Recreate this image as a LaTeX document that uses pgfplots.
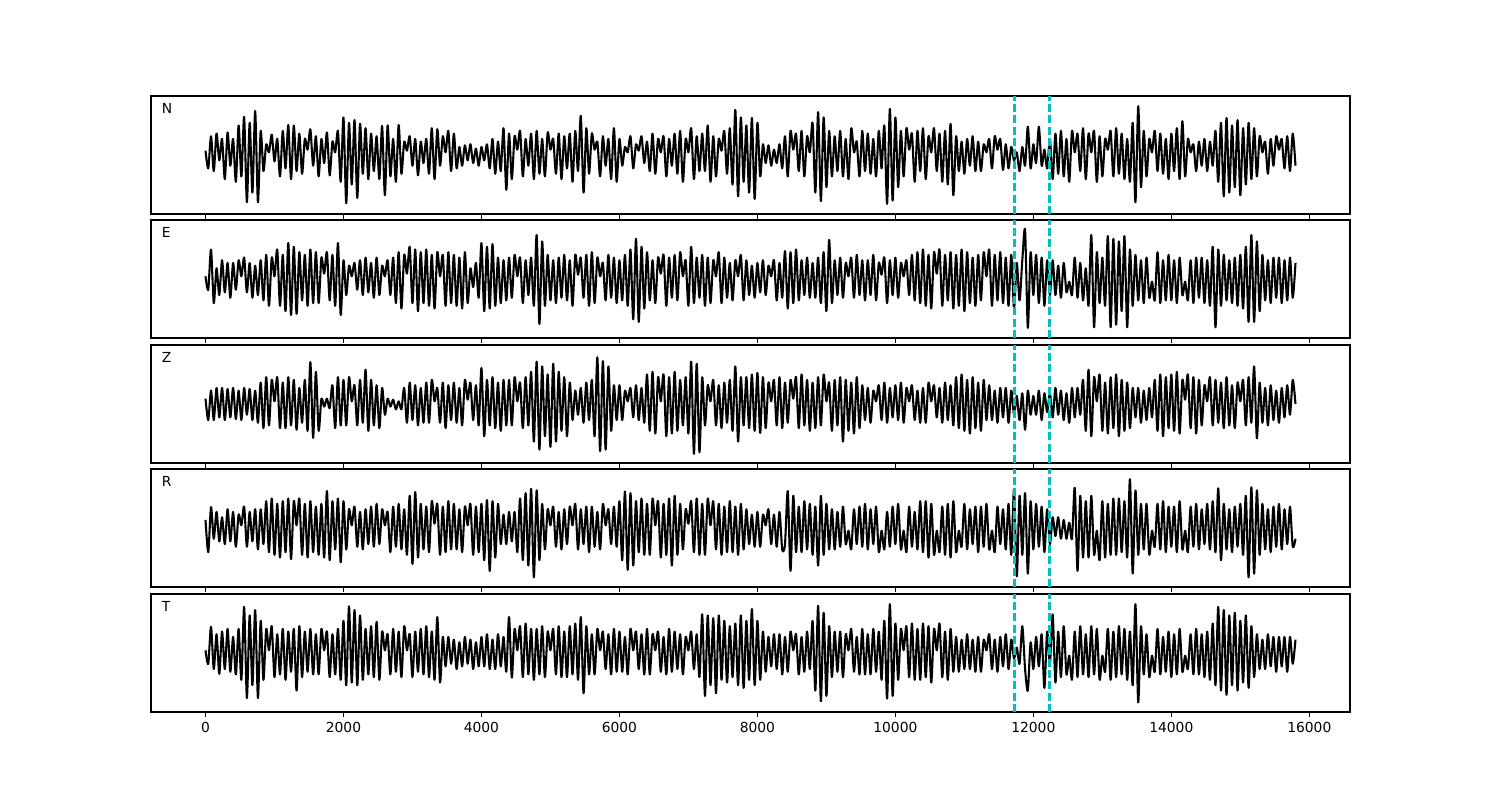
\documentclass[border=0pt]{standalone}
\usepackage{fontspec}
\setmainfont{DejaVu Sans}
\usepackage{pgfplots}
\usepackage{pgfplotstable}
\pgfplotsset{compat=1.18}
\definecolor{mplc}{rgb}{0,0.75,0.75}

\pgfplotstableread[row sep=\\,header=false]{
.08\\ -.25\\ .35\\ -.3\\ .4\\ -.1\\ .3\\ -.45\\ .42\\ -.2\\
.3\\ -.5\\ .55\\ -.4\\ .71\\ -.88\\ .6\\ -.7\\ .82\\ -.88\\
.45\\ -.3\\ .2\\ .05\\ .38\\ -.12\\ .3\\ -.4\\ .45\\ -.25\\
.56\\ -.45\\ .55\\ -.3\\ .4\\ -.35\\ .3\\ .1\\ .48\\ -.2\\
.35\\ -.4\\ .3\\ -.15\\ .42\\ -.38\\ .25\\ .05\\ .45\\ -.5\\
.7\\ -.9\\ .6\\ -.55\\ .65\\ -.8\\ .58\\ -.35\\ .5\\ -.45\\
.4\\ -.3\\ .35\\ -.45\\ .54\\ -.75\\ .55\\ -.4\\ .3\\ -.5\\
.56\\ -.35\\ .25\\ .08\\ .35\\ -.2\\ .3\\ -.38\\ .25\\ -.15\\
.3\\ -.35\\ .5\\ -.45\\ .48\\ -.2\\ .35\\ .05\\ .45\\ -.3\\
.4\\ -.25\\ .15\\ -.2\\ .18\\ -.1\\ .2\\ -.15\\ .12\\ -.2\\
.15\\ -.1\\ .2\\ -.25\\ .3\\ -.35\\ .25\\ -.3\\ .5\\ -.65\\
.4\\ -.45\\ .35\\ .1\\ .45\\ -.4\\ .3\\ -.2\\ .4\\ -.45\\
.45\\ -.35\\ .3\\ -.4\\ .42\\ .1\\ .3\\ -.35\\ .4\\ -.45\\
.35\\ -.25\\ .4\\ -.5\\ .45\\ -.3\\ .73\\ -.7\\ .5\\ -.35\\
.4\\ .1\\ .25\\ -.4\\ .35\\ -.2\\ .3\\ -.45\\ .5\\ -.5\\
.3\\ -.2\\ .15\\ .05\\ .35\\ -.25\\ .2\\ .08\\ .35\\ -.15\\
.25\\ -.3\\ .4\\ -.35\\ .3\\ .05\\ .35\\ -.4\\ .3\\ -.2\\
.4\\ -.35\\ .45\\ -.5\\ .3\\ .05\\ .5\\ -.45\\ .35\\ -.3\\
.4\\ -.3\\ .55\\ -.5\\ .35\\ -.4\\ .3\\ .08\\ .45\\ -.35\\
.5\\ -.55\\ .84\\ -.77\\ .7\\ -.5\\ .55\\ -.7\\ .69\\ -.82\\
.6\\ -.4\\ .2\\ -.15\\ .18\\ -.2\\ .1\\ -.15\\ .2\\ -.25\\
.35\\ -.4\\ .45\\ .1\\ .4\\ -.3\\ .45\\ -.4\\ .35\\ .05\\
.6\\ -.7\\ .8\\ -.86\\ .7\\ -.6\\ .45\\ -.4\\ .35\\ -.3\\
.45\\ -.4\\ .3\\ -.45\\ .5\\ .05\\ .25\\ -.4\\ .45\\ -.3\\
.4\\ -.35\\ .3\\ -.4\\ .45\\ -.25\\ .55\\ -.91\\ .86\\ -.85\\
.7\\ -.6\\ .45\\ -.4\\ .5\\ .1\\ .4\\ -.5\\ .45\\ -.3\\
.5\\ -.45\\ .35\\ .05\\ .5\\ -.3\\ .4\\ -.5\\ .45\\ -.55\\
.58\\ -.75\\ .35\\ -.3\\ .25\\ -.35\\ .3\\ -.2\\ .35\\ -.3\\
.25\\ -.3\\ .2\\ .05\\ .3\\ -.25\\ .35\\ .1\\ .3\\ -.28\\
.2\\ -.25\\ .15\\ -.1\\ .05\\ -.3\\ .15\\ -.2\\ .53\\ -.25\\
.2\\ -.15\\ .53\\ -.2\\ .1\\ -.25\\ .3\\ -.45\\ .4\\ -.35\\
.45\\ -.4\\ .3\\ -.5\\ .45\\ .05\\ .4\\ -.3\\ .5\\ -.45\\
.4\\ .05\\ .45\\ -.5\\ .35\\ -.4\\ .3\\ .1\\ .45\\ -.4\\
.5\\ -.35\\ .4\\ -.45\\ .3\\ -.5\\ .6\\ -.88\\ .91\\ -.6\\
.45\\ -.4\\ .3\\ .05\\ .45\\ -.3\\ .4\\ -.35\\ .3\\ -.45\\
.4\\ -.3\\ .5\\ -.45\\ .63\\ -.4\\ .3\\ .05\\ .2\\ -.3\\
.25\\ -.2\\ .3\\ -.3\\ .25\\ -.2\\ .45\\ -.5\\ .6\\ -.77\\
.69\\ -.7\\ .55\\ -.6\\ .65\\ -.75\\ .5\\ -.55\\ .6\\ -.45\\
.5\\ -.4\\ .35\\ .05\\ .25\\ -.35\\ .3\\ -.2\\ .35\\ .1\\
.3\\ -.25\\ .35\\ -.3\\ .4\\ -.2\\
}\tabN

\pgfplotstableread[row sep=\\,header=false]{
.05\\ -.2\\ .55\\ -.45\\ .2\\ -.3\\ .35\\ -.25\\ .3\\ -.35\\
.3\\ -.2\\ .35\\ .05\\ .4\\ -.25\\ .3\\ -.35\\ .25\\ -.3\\
.35\\ -.4\\ .45\\ -.5\\ .4\\ .05\\ .55\\ -.5\\ .45\\ -.6\\
.67\\ -.67\\ .6\\ -.65\\ .5\\ -.4\\ .45\\ -.5\\ .55\\ -.45\\
.5\\ -.45\\ .4\\ .1\\ .5\\ -.4\\ .45\\ -.5\\ .67\\ -.67\\
.35\\ -.3\\ .25\\ .05\\ .3\\ -.2\\ .35\\ -.3\\ .4\\ -.25\\
.3\\ -.35\\ .4\\ -.3\\ .25\\ .05\\ .35\\ -.3\\ .4\\ -.45\\
.5\\ -.55\\ .45\\ .1\\ .6\\ -.45\\ .55\\ -.6\\ .5\\ -.45\\
.55\\ -.5\\ .45\\ -.55\\ .5\\ .05\\ .45\\ -.5\\ .5\\ -.45\\
.45\\ -.5\\ .4\\ -.55\\ .5\\ -.45\\ .2\\ -.15\\ .3\\ -.35\\
.67\\ -.6\\ .6\\ -.55\\ .65\\ -.5\\ .4\\ -.45\\ .35\\ -.4\\
.4\\ -.35\\ .45\\ .05\\ .4\\ -.45\\ .35\\ -.3\\ .4\\ -.5\\
.82\\ -.84\\ .7\\ -.5\\ .45\\ -.4\\ .35\\ -.45\\ .4\\ -.35\\
.45\\ -.4\\ .35\\ -.5\\ .45\\ .08\\ .4\\ -.35\\ .45\\ -.5\\
.5\\ -.45\\ .4\\ .05\\ .3\\ -.4\\ .45\\ -.35\\ .4\\ -.45\\
.35\\ -.4\\ .45\\ -.5\\ .55\\ -.75\\ .75\\ -.8\\ .6\\ -.55\\
.5\\ -.4\\ .35\\ -.45\\ .4\\ .1\\ .45\\ -.5\\ .4\\ -.35\\
.45\\ -.4\\ .5\\ .05\\ .35\\ -.5\\ .6\\ -.45\\ .4\\ -.35\\
.45\\ -.5\\ .4\\ -.45\\ .35\\ .05\\ .5\\ -.45\\ .4\\ -.35\\
.3\\ -.4\\ .35\\ .05\\ .45\\ -.4\\ .35\\ -.3\\ .25\\ -.35\\
.3\\ -.25\\ .35\\ -.3\\ .25\\ .05\\ .35\\ -.4\\ .3\\ -.35\\
.52\\ -.55\\ .5\\ -.45\\ .55\\ -.4\\ .35\\ -.3\\ .4\\ -.35\\
.3\\ -.35\\ .4\\ -.45\\ .5\\ -.6\\ .73\\ -.45\\ .35\\ -.3\\
.4\\ -.35\\ .3\\ .05\\ .4\\ -.35\\ .45\\ -.3\\ .35\\ -.4\\
.35\\ -.3\\ .45\\ -.4\\ .3\\ .08\\ .4\\ -.45\\ .35\\ -.3\\
.4\\ -.35\\ .3\\ .05\\ .35\\ -.3\\ .45\\ -.4\\ .5\\ -.45\\
.55\\ -.5\\ .45\\ -.55\\ .5\\ .1\\ .55\\ -.5\\ .45\\ -.4\\
.5\\ -.55\\ .45\\ -.5\\ .55\\ -.6\\ .5\\ -.45\\ .4\\ -.5\\
.45\\ -.4\\ .5\\ .05\\ .55\\ -.5\\ .45\\ -.4\\ .5\\ -.45\\
.4\\ -.5\\ .45\\ -.55\\ .3\\ -.4\\ .35\\ .91\\ -.91\\ .5\\
-.3\\ .45\\ -.45\\ .4\\ -.5\\ .35\\ -.3\\ .35\\ -.3\\ .25\\
-.35\\ .3\\ -.25\\ -.05\\ -.3\\ .4\\ -.35\\ .3\\ -.4\\ .2\\
-.5\\ .82\\ -.9\\ .5\\ -.45\\ .4\\ -.5\\ .8\\ -.9\\ .75\\
-.85\\ .7\\ -.6\\ .8\\ -.9\\ .55\\ -.5\\ .45\\ -.4\\ .35\\
-.45\\ .4\\ -.35\\ -.05\\ -.4\\ .5\\ -.45\\ .35\\ -.4\\ .45\\
-.4\\ .35\\ -.45\\ .4\\ -.3\\ -.05\\ -.4\\ .35\\ -.45\\ .4\\
-.35\\ .4\\ -.45\\ .35\\ -.5\\ .6\\ -.9\\ .55\\ -.5\\ .45\\
-.4\\ .35\\ -.45\\ .4\\ -.5\\ .45\\ -.55\\ .6\\ -.8\\ .82\\
-.8\\ .7\\ -.6\\ .45\\ -.4\\ .35\\ -.45\\ .4\\ -.35\\ .4\\
-.45\\ .35\\ -.4\\ .4\\ -.35\\ .3\\
}\tabE

\pgfplotstableread[row sep=\\,header=false]{
.1\\ -.3\\ .25\\ -.3\\ .3\\ -.25\\ .3\\ -.3\\ .28\\ -.25\\
.3\\ -.28\\ .25\\ -.3\\ .3\\ -.2\\ .28\\ -.3\\ .25\\ -.35\\
.4\\ -.45\\ .5\\ -.4\\ .45\\ .05\\ .5\\ -.45\\ .4\\ -.45\\
.5\\ -.4\\ .45\\ -.48\\ .3\\ -.35\\ .45\\ -.5\\ .78\\ -.63\\
.6\\ -.5\\ .1\\ -.05\\ .1\\ -.08\\ .35\\ -.45\\ .5\\ -.4\\
.45\\ -.4\\ .5\\ .05\\ .35\\ -.4\\ .45\\ -.35\\ .64\\ -.5\\
.45\\ -.4\\ .35\\ -.45\\ .3\\ -.2\\ .1\\ -.05\\ .08\\ -.1\\
.05\\ -.1\\ .3\\ -.35\\ .4\\ -.3\\ .35\\ -.4\\ .3\\ -.35\\
.4\\ -.35\\ .45\\ .05\\ .3\\ -.35\\ .4\\ -.45\\ .35\\ -.3\\
.4\\ -.35\\ .3\\ -.4\\ .45\\ .08\\ .4\\ -.3\\ .35\\ -.4\\
.67\\ -.6\\ .45\\ -.4\\ .5\\ -.45\\ .4\\ -.5\\ .45\\ -.4\\
.45\\ -.4\\ .5\\ .05\\ .4\\ -.45\\ .5\\ -.4\\ .6\\ -.7\\
.79\\ -.85\\ .7\\ -.6\\ .55\\ -.8\\ .75\\ -.7\\ .6\\ -.5\\
.5\\ -.6\\ .4\\ -.3\\ .25\\ -.2\\ .3\\ -.35\\ .4\\ -.3\\
.45\\ -.6\\ .87\\ -.88\\ .8\\ -.85\\ .7\\ -.5\\ .35\\ -.3\\
.35\\ -.3\\ .25\\ .05\\ .3\\ -.25\\ .35\\ -.3\\ .3\\ -.35\\
.55\\ -.5\\ .6\\ -.55\\ .5\\ .05\\ .55\\ -.6\\ .5\\ -.55\\
.6\\ -.5\\ .45\\ -.4\\ .5\\ -.55\\ .79\\ -.93\\ .75\\ -.9\\
.5\\ -.4\\ .35\\ .05\\ .45\\ -.4\\ .35\\ -.45\\ .4\\ -.35\\
.45\\ -.5\\ .7\\ -.7\\ .5\\ -.4\\ .5\\ -.45\\ .55\\ -.5\\
.58\\ -.54\\ .5\\ -.45\\ .4\\ .05\\ .45\\ -.4\\ .5\\ -.45\\
.4\\ -.35\\ .45\\ .1\\ .5\\ -.45\\ .55\\ -.4\\ .45\\ -.5\\
.4\\ -.45\\ .5\\ -.4\\ .55\\ .05\\ .4\\ -.5\\ .45\\ -.4\\
.5\\ -.7\\ .45\\ -.5\\ .4\\ -.55\\ .5\\ -.45\\ .35\\ -.3\\
.3\\ -.35\\ .25\\ .05\\ .35\\ -.3\\ .4\\ -.35\\ .3\\ -.25\\
.35\\ -.3\\ .4\\ -.35\\ .3\\ .05\\ .35\\ -.3\\ .25\\ -.35\\
.3\\ -.35\\ .4\\ .05\\ .35\\ -.25\\ .3\\ -.35\\ .4\\ -.3\\
.35\\ -.4\\ .5\\ -.45\\ .55\\ -.5\\ .45\\ -.55\\ .5\\ -.45\\
.4\\ -.5\\ .45\\ -.3\\ .35\\ -.3\\ .25\\ -.35\\ .3\\ -.25\\
.3\\ -.35\\ .25\\ -.2\\ .15\\ -.3\\ .2\\ -.48\\ .25\\ -.2\\
.15\\ -.2\\ .25\\ -.3\\ .2\\ -.15\\ .2\\ -.25\\ .3\\ -.2\\
.25\\ -.3\\ .2\\ -.35\\ .3\\ -.25\\ .3\\ -.2\\ .45\\ -.5\\
.64\\ -.6\\ .5\\ .05\\ .55\\ -.5\\ .4\\ -.55\\ .5\\ -.45\\
.55\\ -.6\\ .45\\ -.5\\ .4\\ -.45\\ .3\\ -.25\\ .3\\ -.35\\
.25\\ -.3\\ .3\\ -.25\\ .45\\ -.5\\ .55\\ -.6\\ .5\\ -.45\\
.55\\ -.5\\ .6\\ -.55\\ .45\\ .08\\ .55\\ -.45\\ .5\\ -.55\\
.45\\ -.4\\ .35\\ .05\\ .5\\ -.4\\ .45\\ -.35\\ .4\\ -.45\\
.5\\ -.4\\ .35\\ -.45\\ .4\\ .05\\ .45\\ -.4\\ .5\\ -.35\\
.7\\ -.64\\ .4\\ -.35\\ .3\\ -.4\\ .35\\ -.3\\ .25\\ -.35\\
.3\\ -.25\\ .35\\ -.2\\ .45\\ 0\\
}\tabZ

\pgfplotstableread[row sep=\\,header=false]{
.15\\ -.45\\ .39\\ -.2\\ .3\\ -.25\\ .2\\ -.3\\ .35\\ -.25\\
.3\\ -.35\\ .25\\ .05\\ .4\\ -.35\\ .3\\ -.25\\ .35\\ -.4\\
.35\\ -.3\\ .5\\ -.45\\ .55\\ -.5\\ .45\\ -.55\\ .5\\ -.45\\
.55\\ -.58\\ .5\\ .05\\ .55\\ -.5\\ .45\\ -.55\\ .5\\ -.45\\
.4\\ -.5\\ .45\\ -.55\\ .69\\ -.6\\ .5\\ -.4\\ .55\\ -.64\\
.5\\ -.4\\ .35\\ .05\\ .4\\ -.35\\ .3\\ -.4\\ .35\\ -.3\\
.4\\ -.35\\ .45\\ -.3\\ .35\\ .05\\ .3\\ -.45\\ .4\\ -.35\\
.45\\ -.4\\ .35\\ -.5\\ .6\\ -.67\\ .67\\ -.55\\ .45\\ -.4\\
.4\\ -.45\\ .5\\ .08\\ .45\\ -.5\\ .4\\ -.45\\ .5\\ -.4\\
.45\\ -.4\\ .35\\ -.45\\ .4\\ .05\\ .45\\ -.5\\ .4\\ -.45\\
.45\\ -.6\\ .52\\ -.8\\ .5\\ -.55\\ .45\\ -.3\\ .25\\ -.3\\
.3\\ -.25\\ .3\\ -.45\\ .55\\ -.6\\ .65\\ -.7\\ .73\\ -.92\\
.7\\ -.6\\ .45\\ -.4\\ .35\\ .05\\ .4\\ -.35\\ .3\\ -.4\\
.35\\ -.3\\ .4\\ .05\\ .45\\ -.4\\ .35\\ -.3\\ .4\\ -.45\\
.4\\ -.35\\ .3\\ -.4\\ .45\\ .05\\ .35\\ -.3\\ .4\\ -.35\\
.5\\ -.6\\ .68\\ -.78\\ .65\\ -.7\\ .5\\ -.45\\ .55\\ -.5\\
.45\\ -.5\\ .55\\ .05\\ .5\\ -.55\\ .45\\ -.5\\ .55\\ -.7\\
.6\\ -.5\\ .45\\ -.4\\ .35\\ .08\\ .5\\ -.45\\ .55\\ -.5\\
.45\\ -.5\\ .55\\ .05\\ .5\\ -.4\\ .45\\ -.5\\ .4\\ -.45\\
.5\\ -.45\\ .4\\ -.5\\ .45\\ -.4\\ .35\\ -.3\\ .25\\ -.35\\
.3\\ -.35\\ .25\\ .05\\ .35\\ -.3\\ .25\\ -.35\\ .3\\ -.4\\
-.3\\ .69\\ -.8\\ .6\\ -.45\\ .4\\ -.45\\ .5\\ -.4\\ .45\\
-.5\\ .4\\ -.7\\ .6\\ -.5\\ .45\\ -.4\\ .35\\ -.4\\ .3\\
-.35\\ .4\\ -.3\\ -.05\\ -.4\\ .35\\ -.3\\ .4\\ -.35\\ .45\\
-.4\\ .35\\ -.3\\ .4\\ -.45\\ -.05\\ -.4\\ .3\\ -.35\\ .4\\
-.3\\ .45\\ -.4\\ -.05\\ -.45\\ .4\\ -.35\\ .3\\ -.4\\ .5\\
-.45\\ .5\\ -.55\\ .45\\ -.5\\ -.05\\ -.45\\ .4\\ -.5\\ .45\\
-.55\\ .5\\ -.45\\ -.05\\ -.35\\ .45\\ -.4\\ .35\\ -.3\\ .4\\
-.45\\ .4\\ -.35\\ .45\\ -.4\\ -.05\\ -.45\\ .4\\ -.3\\ .35\\
-.4\\ .45\\ -.5\\ .73\\ -.9\\ .6\\ -.5\\ .65\\ -.85\\ .5\\
-.4\\ .45\\ -.35\\ .4\\ -.45\\ .35\\ -.3\\ .2\\ -.15\\ .2\\
-.2\\ .15\\ -.2\\ .1\\ -.2\\ .75\\ -.8\\ .6\\ -.55\\ .5\\
-.55\\ .6\\ -.5\\ -.05\\ -.6\\ .5\\ -.55\\ .45\\ -.5\\ .55\\
-.5\\ .55\\ -.45\\ .5\\ -.55\\ .91\\ -.85\\ .7\\ -.5\\ .45\\
-.4\\ .45\\ -.5\\ -.05\\ -.35\\ .45\\ -.4\\ .5\\ -.45\\ .4\\
-.35\\ .4\\ -.45\\ .5\\ -.4\\ -.05\\ -.45\\ .4\\ -.35\\ .45\\
-.4\\ .35\\ -.3\\ .45\\ -.4\\ .5\\ -.45\\ .74\\ -.6\\ .45\\
-.4\\ .35\\ -.45\\ .4\\ -.35\\ .45\\ -.5\\ .6\\ -.92\\ .76\\
-.85\\ .7\\ -.5\\ .45\\ -.4\\ .35\\ -.45\\ .4\\ -.35\\ .45\\
-.4\\ .35\\ -.3\\ .4\\ -.35\\ -.2\\
}\tabR

\pgfplotstableread[row sep=\\,header=false]{
.05\\ -.2\\ .49\\ -.3\\ .35\\ -.39\\ .4\\ -.3\\ .45\\ -.35\\
.3\\ -.4\\ .45\\ -.5\\ .86\\ -.84\\ .7\\ -.6\\ .8\\ -.84\\
.6\\ -.5\\ .45\\ .05\\ .5\\ -.45\\ .35\\ -.4\\ .45\\ -.5\\
.4\\ -.35\\ .45\\ -.7\\ .5\\ -.45\\ .4\\ -.35\\ .45\\ -.4\\
.35\\ -.4\\ .45\\ .05\\ .4\\ -.45\\ .35\\ -.4\\ .45\\ -.5\\
.6\\ -.6\\ .87\\ -.55\\ .8\\ -.6\\ .7\\ -.5\\ .45\\ -.4\\
.5\\ -.45\\ .58\\ -.5\\ .4\\ .05\\ .35\\ -.4\\ .45\\ -.35\\
.4\\ -.45\\ .5\\ .05\\ .35\\ -.45\\ .4\\ -.35\\ .45\\ -.4\\
.5\\ -.45\\ .4\\ -.5\\ .67\\ -.55\\ .3\\ -.25\\ .3\\ -.2\\
.25\\ -.3\\ .2\\ -.25\\ .3\\ -.2\\ .25\\ -.3\\ .2\\ -.25\\
.3\\ -.25\\ .35\\ -.3\\ .25\\ -.3\\ .35\\ -.25\\ .3\\ -.35\\
.67\\ -.46\\ .45\\ .05\\ .5\\ -.45\\ .55\\ -.4\\ .45\\ -.5\\
.45\\ -.4\\ .5\\ -.45\\ .4\\ .05\\ .45\\ -.4\\ .5\\ -.45\\
.4\\ -.45\\ .5\\ -.4\\ .55\\ -.5\\ .67\\ -.75\\ .5\\ -.4\\
.35\\ -.4\\ .45\\ .05\\ .4\\ -.3\\ .35\\ -.4\\ .45\\ -.35\\
.4\\ -.35\\ .3\\ -.4\\ .45\\ .05\\ .4\\ -.3\\ .35\\ -.4\\
.45\\ -.4\\ .35\\ .05\\ .4\\ -.35\\ .3\\ -.4\\ .45\\ -.35\\
.4\\ -.3\\ .35\\ -.4\\ .3\\ .05\\ .4\\ -.3\\ .35\\ -.45\\
.72\\ -.8\\ .7\\ -.6\\ .65\\ -.75\\ .7\\ -.5\\ .6\\ -.55\\
.5\\ -.45\\ .55\\ -.6\\ .7\\ -.65\\ .6\\ -.5\\ .82\\ -.6\\
.6\\ -.5\\ .4\\ -.35\\ .3\\ -.25\\ .35\\ -.3\\ .35\\ -.4\\
.3\\ -.35\\ .4\\ .05\\ .35\\ -.4\\ .3\\ -.35\\ .4\\ -.3\\
.6\\ -.7\\ .88\\ -.9\\ .75\\ -.8\\ .5\\ -.45\\ .4\\ -.35\\
.4\\ -.45\\ .35\\ .05\\ .45\\ -.35\\ .3\\ -.4\\ .45\\ -.4\\
.35\\ -.4\\ .45\\ -.35\\ .4\\ -.5\\ .6\\ -.85\\ .91\\ -.8\\
.55\\ -.5\\ .45\\ .05\\ .5\\ -.45\\ .55\\ -.5\\ .45\\ -.5\\
.55\\ -.45\\ .5\\ -.55\\ .45\\ .05\\ .55\\ -.45\\ .4\\ -.5\\
.45\\ -.35\\ .3\\ -.35\\ .25\\ -.3\\ .35\\ -.3\\ .25\\ -.35\\
.3\\ -.35\\ .25\\ .05\\ .35\\ -.3\\ .25\\ -.35\\ .3\\ -.25\\
.35\\ -.3\\ .25\\ -.1\\ .1\\ -.2\\ .5\\ -.3\\ -.7\\ .2\\
-.3\\ .3\\ -.25\\ .35\\ -.65\\ .4\\ -.2\\ .72\\ -.55\\ .4\\
-.45\\ .5\\ -.4\\ -.05\\ -.5\\ .4\\ -.45\\ .5\\ -.4\\ .35\\
-.45\\ .5\\ -.4\\ .45\\ -.5\\ -.05\\ -.35\\ .45\\ -.5\\ .4\\
-.45\\ .5\\ -.4\\ .45\\ -.5\\ .4\\ -.6\\ .91\\ -.92\\ .5\\
-.4\\ .35\\ -.45\\ -.05\\ -.35\\ .45\\ -.4\\ .3\\ -.35\\ .4\\
-.45\\ .35\\ -.4\\ .45\\ -.35\\ -.05\\ -.3\\ .35\\ -.4\\ .45\\
-.4\\ .35\\ -.45\\ .4\\ -.5\\ .55\\ -.6\\ .86\\ -.7\\ .8\\
-.78\\ .7\\ -.6\\ .75\\ -.7\\ .6\\ -.55\\ .7\\ -.65\\ .5\\
-.45\\ .35\\ -.3\\ .25\\ -.3\\ .35\\ -.25\\ .3\\ -.35\\ .3\\
-.25\\ .3\\ -.35\\ .3\\ -.2\\ .25\\
}\tabT

\pgfplotsset{
  panel/.style={
    anchor=north west, scale only axis,
    width=11.99in, height=1.18in,
    xmin=-790, xmax=16590, ymin=-1.1, ymax=1.1,
    ytick=\empty, xtick={0,2000,...,16000},
    scaled x ticks=false,
    xtick pos=bottom, tick align=outside,
    major tick length=3.5pt,
    axis line style={line width=0.8pt, black},
    every tick/.style={black, line width=0.8pt},
    ticklabel style={font=\fontsize{10}{12}\selectfont},
    /pgf/number format/assume math mode=true,
    /pgf/number format/1000 sep={},
    xticklabel={\pgfmathprintnumber[fixed,precision=0,1000 sep={}]{\tick}},
    clip=true,
  },
  trace/.style={black, line width=1.5pt, line join=round, no markers, smooth, tension=0.45},
  vline/.style={mplc, line width=1.8pt, dash pattern=on 5.8pt off 2.4pt, no markers},
}

\newcommand{\panel}[2]{%
  \addplot[trace] table[x expr=\coordindex*40, y index=0] {#1};
  \addplot[vline] coordinates {(11725,-1.1) (11725,1.1)};
  \addplot[vline] coordinates {(12232,-1.1) (12232,1.1)};
  \node[anchor=west, font=\fontsize{10}{12}\selectfont] at (rel axis cs:0.005,0.895) {#2};
}

\begin{document}
\begin{tikzpicture}
\path[use as bounding box] (0,0) rectangle (15in,8in);
\begin{axis}[panel, at={(1.51in,7.04in)}, xticklabels={}]
\panel{\tabN}{N}
\end{axis}
\begin{axis}[panel, at={(1.51in,5.80in)}, xticklabels={}]
\panel{\tabE}{E}
\end{axis}
\begin{axis}[panel, at={(1.51in,4.55in)}, xticklabels={}]
\panel{\tabZ}{Z}
\end{axis}
\begin{axis}[panel, at={(1.51in,3.31in)}, xticklabels={}]
\panel{\tabR}{R}
\end{axis}
\begin{axis}[panel, at={(1.51in,2.06in)}]
\panel{\tabT}{T}
\end{axis}
\end{tikzpicture}
\end{document}
